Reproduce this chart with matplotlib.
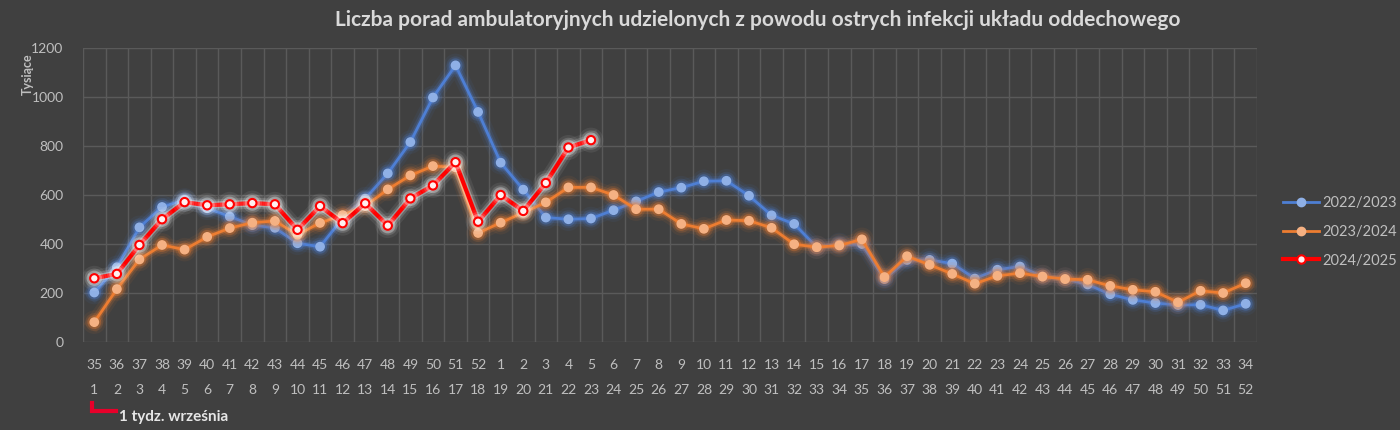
import numpy as np
import matplotlib
matplotlib.use('Agg')
import matplotlib.pyplot as plt
import matplotlib.patheffects as pe
from matplotlib.lines import Line2D

# tygodnie sezonu (numer tygodnia kalendarzowego) i kolejny tydzień sezonu
weeks_cal = [35, 36, 37, 38, 39, 40, 41, 42, 43, 44, 45, 46, 47, 48, 49, 50, 51, 52,
             1, 2, 3, 4, 5, 6, 7, 8, 9, 10, 11, 12, 13, 14, 15, 16, 17, 18, 19, 20,
             21, 22, 23, 24, 25, 26, 27, 28, 29, 30, 31, 32, 33, 34]
weeks_season = list(range(1, 53))

# liczba porad (tys.)
s2022 = [202, 305, 468, 551, 580, 546, 512, 477, 466, 403, 389, 505, 585, 688, 816, 998, 1129, 939,
         732, 622, 508, 501, 504, 538, 574, 612, 630, 656, 658, 597, 517, 482, 387, 398, 400, 257,
         335, 335, 320, 259, 295, 308, 267, 257, 235, 195, 172, 159, 151, 152, 129, 156]
s2023 = [81, 216, 337, 396, 377, 429, 465, 487, 494, 438, 486, 518, 555, 623, 680, 718, 713, 445,
         487, 528, 570, 631, 631, 600, 542, 542, 482, 462, 498, 495, 466, 399, 387, 394, 419, 265,
         350, 315, 278, 238, 270, 281, 267, 257, 254, 229, 213, 205, 162, 209, 200, 240]
s2024 = [260, 278, 396, 501, 571, 558, 562, 567, 562, 458, 555, 485, 566, 475, 586, 639, 734, 491,
         600, 535, 649, 794, 824]

labels = ['2022/2023', '2023/2024', '2024/2025']
title = 'Liczba porad ambulatoryjnych udzielonych z powodu ostrych infekcji układu oddechowego'

BG = '#404040'
GRID = '#5a5a5a'
TXT = '#bfbfbf'
plt.rcParams['font.family'] = ['Lato', 'DejaVu Sans']

fig = plt.figure(figsize=(14, 4.3), dpi=100, facecolor=BG)
ax = fig.add_axes([83 / 1400, 1 - 342 / 430, (1257 - 83) / 1400, (342 - 48) / 430])
ax.set_facecolor(BG)

x = np.arange(len(weeks_cal))


def glow(c, w):
    return [pe.Stroke(linewidth=w + 9, foreground=c, alpha=0.07),
            pe.Stroke(linewidth=w + 5, foreground=c, alpha=0.15),
            pe.Stroke(linewidth=w + 2, foreground=c, alpha=0.3),
            pe.Normal()]


ax.plot(x[:len(s2022)], s2022, color='#4e7fd4', lw=2, marker='o', ms=6,
        mfc='#8fb0e6', mec='#8fb0e6', label=labels[0], zorder=3,
        path_effects=glow('#4e7fd4', 2))
ax.plot(x[:len(s2023)], s2023, color='#ed7d31', lw=2, marker='o', ms=6,
        mfc='#f5b183', mec='#f5b183', label=labels[1], zorder=4,
        path_effects=glow('#ed7d31', 2))
ax.plot(x[:len(s2024)], s2024, color='#ff0000', lw=3, marker='o', ms=6,
        mfc='#fff0f0', mec='#ff0000', mew=1.5, label=labels[2], zorder=5,
        path_effects=glow('#ffffff', 3))

ax.set_xlim(-0.5, len(weeks_cal) - 0.5)
ax.set_ylim(0, 1200)
ax.set_yticks(range(0, 1201, 200))
ax.set_xticks(x)
ax.set_xticklabels([str(w) for w in weeks_cal])
ax.set_xticks(np.arange(-0.5, len(weeks_cal), 1), minor=True)
ax.grid(True, which='minor', axis='x', color=GRID, lw=1)
ax.grid(True, which='major', axis='y', color=GRID, lw=1)
ax.set_axisbelow(True)
ax.tick_params(axis='both', which='both', length=0, colors=TXT, labelsize=10)
ax.tick_params(axis='x', pad=12)
ax.tick_params(axis='y', pad=14)
for s in ax.spines.values():
    s.set_visible(False)

# drugi rząd etykiet - tydzień sezonu
for xi, w in zip(x, weeks_season):
    ax.text(xi, -48 / 294, str(w), transform=ax.get_xaxis_transform(),
            ha='center', va='center', color=TXT, fontsize=10)

fig.text(28 / 1400, 1 - 74 / 430, 'Tysiące', rotation=90, ha='center', va='center',
         color=TXT, fontsize=9, fontweight='bold')
fig.text(758 / 1400, 1 - 20 / 430, title, ha='center', va='center',
         color='#d9d9d9', fontsize=15, fontweight='bold')

# oznaczenie 1 tygodnia września
fig.add_artist(Line2D([91.5 / 1400, 91.5 / 1400, 116 / 1400],
                      [1 - 403 / 430, 1 - 411 / 430, 1 - 411 / 430],
                      color='#e8002a', lw=3, solid_joinstyle='miter'))
fig.text(119 / 1400, 1 - 417 / 430, '1 tydz. września', ha='left', va='center',
         color='#e6e6e6', fontsize=11, fontweight='bold')

leg = fig.legend(loc='center left', bbox_to_anchor=(1283 / 1400, 1 - 232 / 430),
                 frameon=False, fontsize=10.5, labelcolor=TXT, handlelength=2.5,
                 handletextpad=0.2, labelspacing=1.0, borderaxespad=0, borderpad=0)
for h in leg.legend_handles:
    h.set_path_effects([])

fig.savefig('out.png', dpi=100, facecolor=BG)
